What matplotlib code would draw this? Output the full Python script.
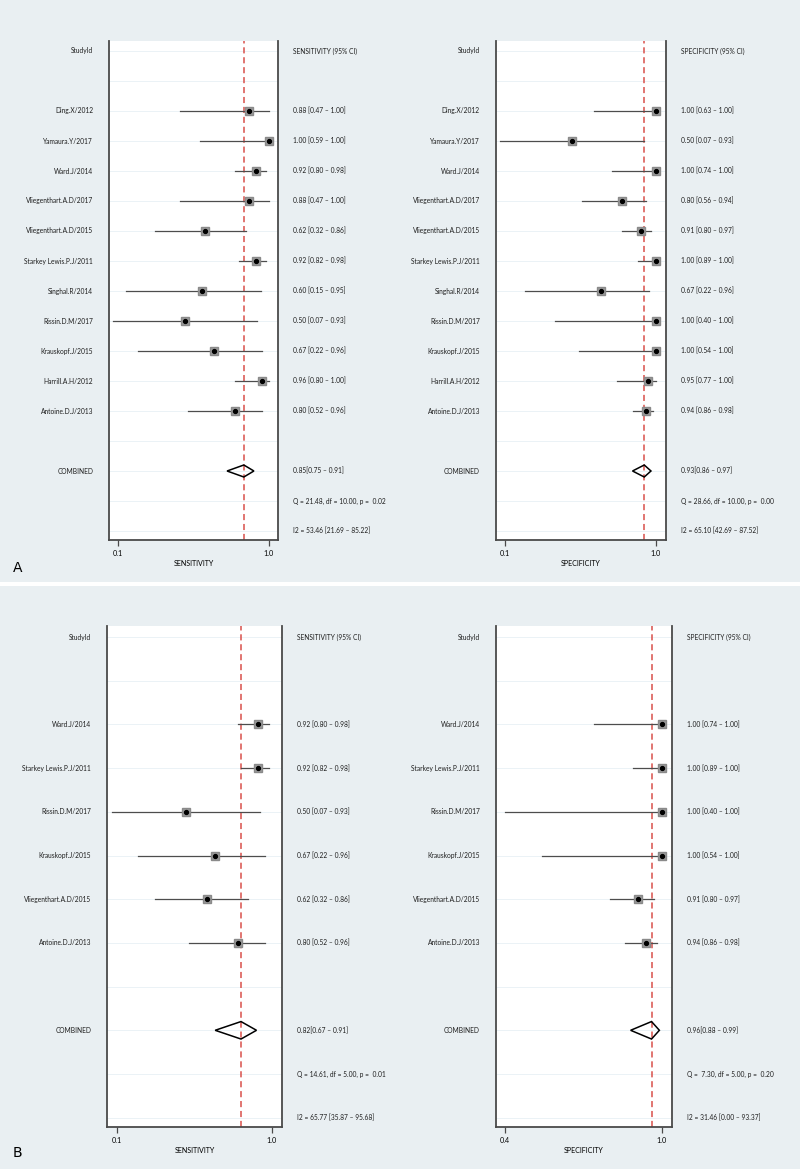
import matplotlib
matplotlib.use("Agg")
import matplotlib.pyplot as plt
from matplotlib.patches import Polygon, Rectangle

plt.rcParams['font.family'] = ['Lato', 'DejaVu Sans']

# ---- data ----
studies_a = ["Ding.X/2012", "Yamaura.Y/2017", "Ward.J/2014", "Vliegenthart.A.D/2017",
             "Vliegenthart.A.D/2015", "Starkey Lewis.P.J/2011", "Singhal.R/2014",
             "Rissin.D.M/2017", "Krauskopf.J/2015", "Harrill.A.H/2012", "Antoine.D.J/2013"]
sens_a = [0.88, 1.00, 0.92, 0.88, 0.62, 0.92, 0.60, 0.50, 0.67, 0.96, 0.80]
sens_a_lo = [0.47, 0.59, 0.80, 0.47, 0.32, 0.82, 0.15, 0.07, 0.22, 0.80, 0.52]
sens_a_hi = [1.00, 1.00, 0.98, 1.00, 0.86, 0.98, 0.95, 0.93, 0.96, 1.00, 0.96]
sens_a_pool = (0.85, 0.75, 0.91)
sens_a_q = (21.48, 10.00, 0.02)
sens_a_i2 = (53.46, 21.69, 85.22)

spec_a = [1.00, 0.50, 1.00, 0.80, 0.91, 1.00, 0.67, 1.00, 1.00, 0.95, 0.94]
spec_a_lo = [0.63, 0.07, 0.74, 0.56, 0.80, 0.89, 0.22, 0.40, 0.54, 0.77, 0.86]
spec_a_hi = [1.00, 0.93, 1.00, 0.94, 0.97, 1.00, 0.96, 1.00, 1.00, 1.00, 0.98]
spec_a_pool = (0.93, 0.86, 0.97)
spec_a_q = (28.66, 10.00, 0.00)
spec_a_i2 = (65.10, 42.69, 87.52)

studies_b = ["Ward.J/2014", "Starkey Lewis.P.J/2011", "Rissin.D.M/2017",
             "Krauskopf.J/2015", "Vliegenthart.A.D/2015", "Antoine.D.J/2013"]
sens_b = [0.92, 0.92, 0.50, 0.67, 0.62, 0.80]
sens_b_lo = [0.80, 0.82, 0.07, 0.22, 0.32, 0.52]
sens_b_hi = [0.98, 0.98, 0.93, 0.96, 0.86, 0.96]
sens_b_pool = (0.82, 0.67, 0.91)
sens_b_q = (14.61, 5.00, 0.01)
sens_b_i2 = (65.77, 35.87, 95.68)

spec_b = [1.00, 1.00, 1.00, 1.00, 0.91, 0.94]
spec_b_lo = [0.74, 0.89, 0.40, 0.54, 0.80, 0.86]
spec_b_hi = [1.00, 1.00, 1.00, 1.00, 0.97, 0.98]
spec_b_pool = (0.96, 0.88, 0.99)
spec_b_q = (7.30, 5.00, 0.20)
spec_b_i2 = (31.46, 0.00, 93.37)

W, H = 800, 1169
BG = "#e9eff2"
FS = 4.8


def axes_at(fig, x0, y0, x1, y1):
    return fig.add_axes([x0 / W, 1 - y1 / H, (x1 - x0) / W, (y1 - y0) / H])


def forest(ax, studies, est, lo, hi, pool, q, i2, name, xlim, ylim, ticks, ticklabels):
    n = len(studies)
    rows = list(range(2, 2 + n))
    r_comb, r_q, r_i2 = n + 3, n + 4, n + 5
    ax.set_xlim(*xlim)
    ax.set_ylim(*ylim)
    ax.set_facecolor("white")
    for r in range(0, r_i2 + 1):
        ax.axhline(r, color="#e8f0f5", lw=0.6, zorder=0)
    ax.axvline(pool[0], color="#d9504a", lw=1.1, ls=(0, (4, 2.5)), zorder=1)
    for r, e, l, h in zip(rows, est, lo, hi):
        ax.plot([l, h], [r, r], color="#4d4d4d", lw=0.9, zorder=2)
        ax.plot(e, r, marker="s", ms=5.2, color="#9a9a9a", mec="#8a8a8a", zorder=3)
        ax.plot(e, r, marker="o", ms=2.8, color="black", zorder=4)
    e, l, h = pool
    ax.add_patch(Polygon([(l, r_comb), (e, r_comb - 0.2), (h, r_comb), (e, r_comb + 0.2)],
                         closed=True, fill=False, ec="black", lw=1.1, zorder=5))
    ax.spines["top"].set_visible(False)
    for s in ("left", "right", "bottom"):
        ax.spines[s].set_color("#4a4a4a")
        ax.spines[s].set_linewidth(1.3)
    ax.set_yticks([])
    ax.set_xticks(ticks)
    ax.set_xticklabels(ticklabels, fontsize=FS + 0.4)
    ax.tick_params(axis="x", length=4, width=0.9, color="#4a4a4a", pad=3.5)
    ax.set_xlabel(name, fontsize=FS + 0.3, labelpad=2)

    yt = ax.get_yaxis_transform()
    wpx = ax.get_position().width * W
    lx = -16 / wpx
    vx = 1 + 15 / wpx
    kw = dict(transform=yt, fontsize=FS, va="center", clip_on=False, color="#1e1e1e")
    ax.text(lx, 0, "StudyId", ha="right", **kw)
    ax.text(vx, 0, f"{name} (95% CI)", ha="left", **kw)
    for r, s, e_, l_, h_ in zip(rows, studies, est, lo, hi):
        ax.text(lx, r, s, ha="right", **kw)
        ax.text(vx, r, f"{e_:.2f} [{l_:.2f} \u2013 {h_:.2f}]", ha="left", **kw)
    ax.text(lx, r_comb, "COMBINED", ha="right", **kw)
    ax.text(vx, r_comb, f"{e:.2f}[{l:.2f} \u2013 {h:.2f}]", ha="left", **kw)
    ax.text(vx, r_q, f"Q = {q[0]:5.2f}, df = {q[1]:.2f}, p = {q[2]:5.2f}", ha="left", **kw)
    ax.text(vx, r_i2, f"I2 = {i2[0]:.2f} [{i2[1]:.2f} \u2013 {i2[2]:.2f}]", ha="left", **kw)


fig = plt.figure(figsize=(W / 100, H / 100), dpi=100)
fig.patch.set_facecolor(BG)
fig.patches.append(Rectangle((0, 1 - 586 / H), 1, 4 / H, transform=fig.transFigure,
                             facecolor="white", edgecolor="none", zorder=0))

ylim_a = ((540 - 51) / 30, (41 - 51) / 30)
ylim_b = ((1127 - 637) / 43.7, (626 - 637) / 43.7)

ax = axes_at(fig, 109, 41, 278, 540)
forest(ax, studies_a, sens_a, sens_a_lo, sens_a_hi, sens_a_pool, sens_a_q, sens_a_i2,
       "SENSITIVITY", (0.1 - 9 * 0.9 / 151, 1.0 + 9 * 0.9 / 151), ylim_a, [0.1, 1.0], ["0.1", "1.0"])
ax = axes_at(fig, 496, 41, 666, 540)
forest(ax, studies_a, spec_a, spec_a_lo, spec_a_hi, spec_a_pool, spec_a_q, spec_a_i2,
       "SPECIFICITY", (0.1 - 9 * 0.9 / 151, 1.0 + 10 * 0.9 / 151), ylim_a, [0.1, 1.0], ["0.1", "1.0"])
ax = axes_at(fig, 107, 626, 282, 1127)
forest(ax, studies_b, sens_b, sens_b_lo, sens_b_hi, sens_b_pool, sens_b_q, sens_b_i2,
       "SENSITIVITY", (0.1 - 10 * 0.9 / 155, 1.0 + 10 * 0.9 / 155), ylim_b, [0.1, 1.0], ["0.1", "1.0"])
ax = axes_at(fig, 496, 626, 672, 1127)
forest(ax, studies_b, spec_b, spec_b_lo, spec_b_hi, spec_b_pool, spec_b_q, spec_b_i2,
       "SPECIFICITY", (0.4 - 9 * 0.6 / 157, 1.0 + 10 * 0.6 / 157), ylim_b, [0.4, 1.0], ["0.4", "1.0"])

fig.text(13 / W, 1 - 568 / H, "A", fontsize=10, va="center", ha="left", family="DejaVu Sans")
fig.text(13 / W, 1 - 1153 / H, "B", fontsize=10, va="center", ha="left", family="DejaVu Sans")

fig.savefig("out.png", dpi=100, facecolor=fig.get_facecolor())
